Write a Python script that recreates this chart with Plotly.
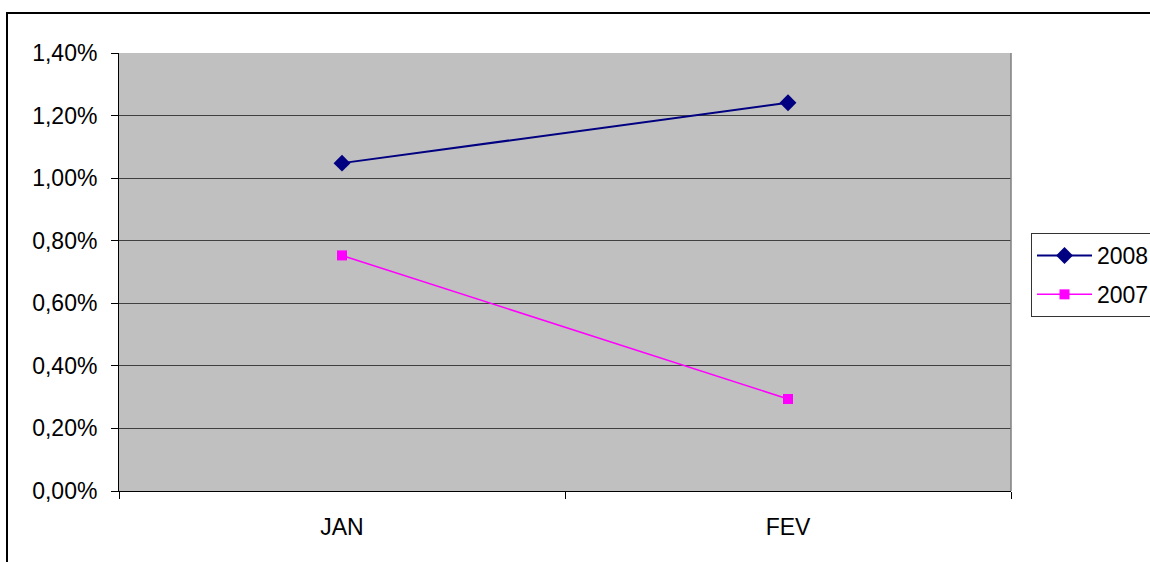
import plotly.graph_objects as go

# Monthly rates by year
months = ["JAN", "FEV"]
rate_2008 = [1.048, 1.241]
rate_2007 = [0.753, 0.294]
y_ticks = [0.0, 0.2, 0.4, 0.6, 0.8, 1.0, 1.2, 1.4]
y_tick_text = ["0,00%", "0,20%", "0,40%", "0,60%", "0,80%", "1,00%", "1,20%", "1,40%"]

FONT = "Liberation Sans, Arial, sans-serif"
FS = 23

fig = go.Figure()
fig.add_trace(go.Scatter(
    x=months, y=rate_2008, name="2008", mode="lines+markers",
    legendgroup="a",
    line=dict(color="#000080", width=2),
    marker=dict(symbol="diamond", size=13, color="#000080"),
))
fig.add_trace(go.Scatter(
    x=months, y=rate_2007, name="2007", mode="lines+markers",
    legendgroup="b",
    line=dict(color="#FF00FF", width=1.5),
    marker=dict(symbol="square", size=10, color="#FF00FF"),
))

L, T, R, B = 119, 53, 139, 71
W, H = 1150, 562
pw, ph = W - L - R, H - T - B

fig.update_layout(
    width=W, height=H,
    margin=dict(l=L, r=R, t=T, b=B, pad=0, autoexpand=False),
    paper_bgcolor="white",
    plot_bgcolor="#C0C0C0",
    font=dict(family=FONT, size=FS, color="black"),
    showlegend=True,
    legend=dict(
        x=(1031 - L) / pw, y=(H - B - 233) / ph,
        xanchor="left", yanchor="top",
        bordercolor="#333333", borderwidth=1,
        bgcolor="white",
        font=dict(family=FONT, size=FS, color="black"),
        traceorder="grouped", tracegroupgap=6,
        itemwidth=55,
    ),
    xaxis=dict(
        type="category", range=[-0.5, 1.5],
        tickson="boundaries", ticks="outside", ticklen=7, tickcolor="black",
        showline=True, linecolor="black", linewidth=1,
        showgrid=False, zeroline=False,
        tickfont=dict(family=FONT, size=FS),
        ticklabelstandoff=15,
    ),
    yaxis=dict(
        range=[0, 1.4],
        tickvals=y_ticks, ticktext=y_tick_text,
        ticks="outside", ticklen=7, tickcolor="black",
        showline=True, linecolor="black", linewidth=1,
        showgrid=True, gridcolor="#404040", gridwidth=1,
        zeroline=False,
        tickfont=dict(family=FONT, size=FS),
        ticklabelstandoff=9,
    ),
    shapes=[
        # right edge of the plot area
        dict(type="line", xref="paper", yref="paper", x0=1, x1=1, y0=0, y1=1,
             line=dict(color="#808080", width=1.5)),
        # outer chart frame
        dict(type="rect", xref="paper", yref="paper",
             x0=(7 - L) / pw, x1=(1200 - L) / pw,
             y0=(H - B - 620) / ph, y1=(H - B - 13) / ph,
             line=dict(color="black", width=2), layer="below"),
    ],
)

fig.write_html("out.html")
